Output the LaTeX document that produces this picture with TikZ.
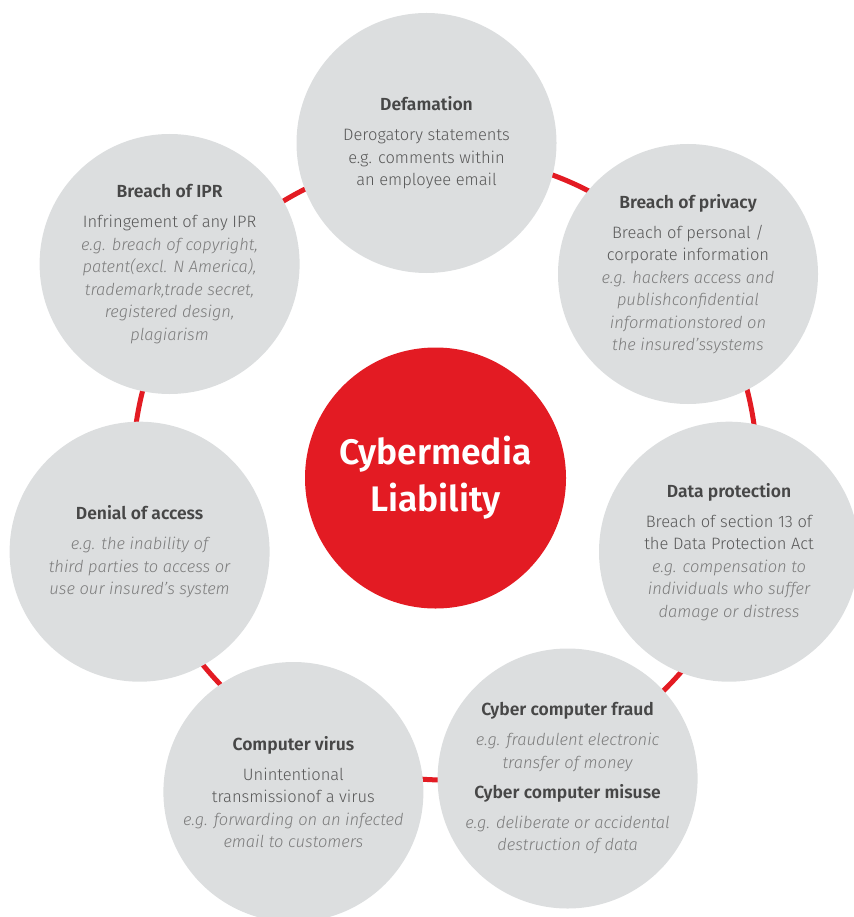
\documentclass[tikz,border=0pt]{standalone}
\usepackage{fontspec}
\setmainfont{Fira Sans}[UprightFont=* Light, ItalicFont=* Light Italic, BoldFont=* SemiBold]
\definecolor{cyred}{HTML}{E31B23}
\definecolor{cygray}{HTML}{DCDEDF}
\definecolor{cyhead}{HTML}{474747}
\definecolor{cytext}{HTML}{585858}
\definecolor{cyital}{HTML}{7C7C7C}
\newcommand{\hd}[1]{{\fontsize{17.5}{22.5}\selectfont\bfseries\color{cyhead}#1}}
\newcommand{\egl}[1]{{\itshape\color{cyital}#1}}
\begin{document}
\begin{tikzpicture}[x=1pt,y=-1pt,
    bubble/.style={circle,fill=cygray,minimum size=260pt,inner sep=0pt,align=center,
      text=cytext,font=\fontsize{16.5}{22.5}\selectfont},
    hub/.style={circle,fill=cyred,minimum size=261pt,inner sep=0pt,align=center,
      text=white,font=\fontsize{35.5}{47}\selectfont\bfseries}]
    \useasboundingbox (0,0) rectangle (853,917);
    % red ring behind the bubbles
    \coordinate (ringc) at (445,468);
    \draw[cyred,line width=5pt] (ringc) circle[radius=312];
    \node[bubble] (defam) at (426.5,143) {\hd{Defamation}\\[7.5pt]
        Derogatory statements\\ e.g. comments within\\ an employee email};
    \node[bubble] (ipr) at (169.6,264) {\hd{Breach of IPR}\\[7.5pt]
        Infringement of any IPR\\ \egl{e.g. breach of copyright,}\\
        \egl{patent(excl. N America),}\\ \egl{trademark,trade secret,}\\
        \egl{registered design,}\\ \egl{plagiarism}};
    \node[bubble] (privacy) at (688,274) {\hd{Breach of privacy}\\[7.5pt]
        Breach of personal /\\ corporate information\\
        \egl{e.g. hackers access and}\\ \egl{publishconfidential}\\
        \egl{informationstored on}\\ \egl{the insured’ssystems}};
    \node[bubble] (denial) at (139.6,551.7) {\hd{Denial of access}\\[7.5pt]
        \egl{e.g. the inability of}\\ \egl{third parties to access or}\\
        \egl{use our insured’s system}};
    \node[bubble] (dataprot) at (729,551.7) {\hd{Data protection}\\[7.5pt]
        Breach of section 13 of\\ the Data Protection Act\\
        \egl{e.g. compensation to}\\ \egl{individuals who suffer}\\
        \egl{damage or distress}};
    \node[bubble] (virus) at (293.4,792) {\hd{Computer virus}\\[7.5pt]
        Unintentional\\ transmissionof a virus\\
        \egl{e.g. forwarding on an infected}\\ \egl{email to customers}};
    \node[bubble] (fraud) at (567.6,778.5) {\hd{Cyber computer fraud}\\[7.5pt]
        \egl{e.g. fraudulent electronic}\\ \egl{transfer of money}\\[7.5pt]
        \hd{Cyber computer misuse}\\[7.5pt]
        \egl{e.g. deliberate or accidental}\\ \egl{destruction of data}};
    \node[hub] (hub) at (435.5,478) {Cybermedia\\Liability};
\end{tikzpicture}
\end{document}
